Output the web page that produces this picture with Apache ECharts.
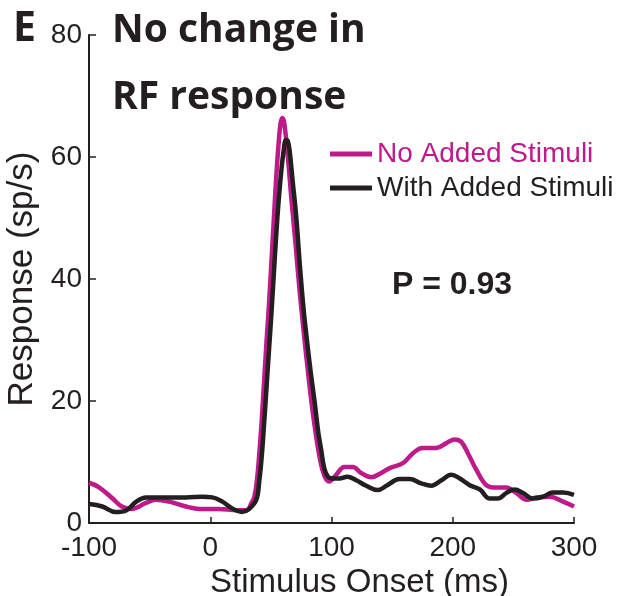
<!DOCTYPE html>
<html><head><meta charset="utf-8">
<script src="https://cdn.jsdelivr.net/npm/echarts@6/dist/echarts.min.js"></script>
<style>html,body{margin:0;padding:0;background:#fff}#c{width:631px;height:596px}</style>
</head><body><div id="c"></div>
<script>
// ---- data ----
const noAddedTime = [-100,-92,-81,-73,-65,-53,-45,-34,-20,-9,7,22,30,34,36.4,38.5,40.5,42.5,44.5,46.5,48.5,50.5,52.5,54.5,56.5,58,59.5,61,64,67,70,73.5,77,80.5,84,87.5,90.5,94,98,103.8,110.7,117.6,124.5,132.8,141,148,158.8,167,175,186.5,194.7,201.6,207,212.6,219.5,227.8,236,244,252.6,261,269,280,291,300];
const noAddedRate = [6.6,5.9,4.1,2.7,2.3,3.3,3.8,3.5,2.7,2.3,2.3,2.1,2.1,3.3,4.3,7,11.5,17,23.5,30,36,43,50,57,62.5,65.5,66.4,65.6,60,53,46.5,38.5,31.5,25,19,14,10.5,7.8,6.8,7.9,9.2,9.2,8.2,7.5,8.2,9.0,9.8,11.4,12.3,12.3,13.1,13.7,13.3,11.4,8.7,6.2,5.8,5.8,4.9,3.8,4.2,4.3,3.5,2.7];
const withAddedTime = [-100,-89,-78,-69,-61,-53,-36,-20,-6.6,1.7,10,18,26,32,38,40.5,42.5,44.5,46.5,48.5,50.5,52.5,54.5,56.5,58.5,60.5,62.5,64,65.5,68,71,74,77,80,83,86,89,91.5,94,97,101,106.6,113,120.4,128.7,138,146,156,164.5,174,182.3,190.6,198.9,205.8,214,222.3,230.6,237.3,244,251,258,266,274.4,282.6,291,300];
const withAddedRate = [3.1,2.7,1.8,2.1,3.5,4.2,4.2,4.2,4.3,4.2,3.5,2.4,1.8,2.3,3.8,7,11,16.5,22.5,28.5,34.5,41,47.5,53,57.5,61,62.8,62.6,61,56,50,42,35,29.5,24.5,20,15,12,9,7.6,7.3,7.3,7.6,7.0,6.1,5.4,6.2,7.2,7.2,6.5,6.1,7.0,7.9,7.3,6.2,5.5,4.0,4.0,4.9,5.5,4.9,4.0,4.3,5.0,5.0,4.6];
const seriesNames = ['No Added Stimuli', 'With Added Stimuli'];
const panelLetter = 'E';
const titleLines = ['No change in', 'RF response'];
const pValueText = 'P = 0.93';
const xAxisName = 'Stimulus Onset (ms)';
const yAxisName = 'Response (sp/s)';

const MAGENTA = '#BE1A8A';
const BLACK = '#231F20';
const FONT = 'Liberation Sans, Arial, sans-serif';

const pairs = (t, v) => t.map((x, i) => [x, v[i]]);

const chart = echarts.init(document.getElementById('c'), null, {renderer: 'canvas'});
chart.setOption({
  animation: false,
  backgroundColor: '#fff',
  grid: {left: 89, right: 57, top: 35, bottom: 73, containLabel: false, outerBoundsMode: 'none'},
  xAxis: {
    type: 'value', min: -100, max: 300, interval: 100,
    name: xAxisName, nameLocation: 'middle', nameGap: 36,
    nameTextStyle: {fontFamily: FONT, fontSize: 33, color: BLACK, padding: [0, 0, 0, 56]},
    axisLine: {show: true, onZero: false, lineStyle: {color: BLACK, width: 2}},
    axisTick: {show: true, inside: true, length: 6, lineStyle: {color: BLACK, width: 1.5}},
    axisLabel: {fontFamily: FONT, fontSize: 28, color: BLACK, margin: 11},
    splitLine: {show: false}
  },
  yAxis: {
    type: 'value', min: 0, max: 80, interval: 20,
    name: yAxisName, nameLocation: 'middle', nameGap: 49,
    nameTextStyle: {fontFamily: FONT, fontSize: 35, color: BLACK},
    axisLine: {show: true, onZero: false, lineStyle: {color: BLACK, width: 2}},
    axisTick: {show: true, inside: true, length: 7, lineStyle: {color: BLACK, width: 1.5}},
    axisLabel: {fontFamily: FONT, fontSize: 28, color: BLACK, margin: 7},
    splitLine: {show: false}
  },
  legend: {
    orient: 'vertical', left: 325, top: 135, itemWidth: 42, itemHeight: 5, itemGap: 6,
    icon: 'rect',
    textStyle: {fontFamily: FONT, fontSize: 28},
    data: [
      {name: seriesNames[0], textStyle: {color: MAGENTA}},
      {name: seriesNames[1], textStyle: {color: BLACK}}
    ]
  },
  series: [
    {name: seriesNames[0], type: 'line', data: pairs(noAddedTime, noAddedRate), showSymbol: false,
     smooth: 0.4, color: MAGENTA, lineStyle: {color: MAGENTA, width: 4.5}, z: 2},
    {name: seriesNames[1], type: 'line', data: pairs(withAddedTime, withAddedRate), showSymbol: false,
     smooth: 0.4, color: BLACK, lineStyle: {color: BLACK, width: 4.5}, z: 3}
  ],
  graphic: [
    {type: 'text', left: 13, top: 9, style: {text: panelLetter, font: 'bold 41px "Open Sans", sans-serif', fill: BLACK}},
    {type: 'text', x: 112, y: 31, style: {text: titleLines[0], font: 'bold 39px "Open Sans", sans-serif', fill: BLACK, verticalAlign: 'middle'}},
    {type: 'text', x: 112, y: 98, style: {text: titleLines[1], font: 'bold 39px "Open Sans", sans-serif', fill: BLACK, verticalAlign: 'middle'}},
    {type: 'text', x: 392, y: 285, style: {text: pValueText, font: 'bold 32px "Liberation Sans", Arial, sans-serif', fill: BLACK, verticalAlign: 'middle'}}
  ]
});
</script>
</body></html>
